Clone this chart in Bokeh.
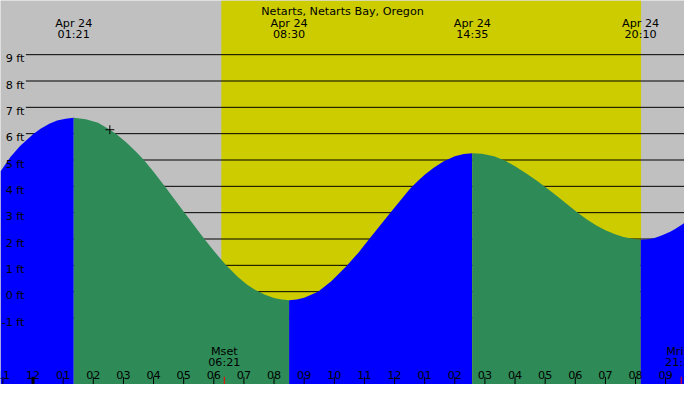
from bokeh.plotting import figure
from bokeh.models import Range1d
from bokeh.core.properties import value
from bokeh.embed import file_html
from bokeh.resources import INLINE

# ---------------- data ----------------
title = "Netarts, Netarts Bay, Oregon"
date_label = "Apr 24"

# tide curve: hours after midnight of Apr 24, water level in ft
tide_hours = [-1.08, -0.75, -0.43, 0.00, 0.25, 0.54, 0.80, 1.08, 1.35,
              1.75, 2.16, 2.55, 2.76, 3.10, 3.46, 3.68, 4.00, 4.41, 4.70,
              5.03, 5.35, 5.68, 6.00, 6.38, 6.80, 7.10, 7.35, 7.70, 8.00,
              8.25, 8.50,
              8.75, 9.00, 9.46, 9.90, 10.40, 10.80, 11.14, 11.50, 11.84,
              12.20, 12.52, 12.80, 13.00, 13.30, 13.62, 14.00, 14.30, 14.58,
              14.90, 15.30, 15.68, 16.00, 16.40, 16.75, 17.08, 17.40, 17.75,
              18.08, 18.40, 18.70, 19.00, 19.30, 19.60, 19.90, 20.17,
              20.40, 20.60, 20.80, 20.98, 21.15, 21.30, 21.47, 21.63]
tide_ft = [4.56, 5.11, 5.53, 5.98, 6.19, 6.38, 6.50, 6.57, 6.60,
           6.55, 6.41, 6.15, 5.99, 5.66, 5.27, 5.00, 4.55, 3.95, 3.50,
           3.00, 2.51, 2.01, 1.55, 1.04, 0.56, 0.27, 0.08, -0.12, -0.24,
           -0.30, -0.33,
           -0.30, -0.23, 0.00, 0.40, 0.97, 1.48, 1.97, 2.48, 2.97,
           3.47, 3.92, 4.23, 4.44, 4.71, 4.94, 5.14, 5.23, 5.26,
           5.24, 5.14, 4.97, 4.76, 4.47, 4.19, 3.91, 3.62, 3.30,
           3.00, 2.73, 2.51, 2.33, 2.19, 2.08, 2.01, 1.97,
           1.99, 2.03, 2.10, 2.19, 2.28, 2.37, 2.49, 2.61]

# high / low tide times
extreme_times = ["01:21", "08:30", "14:35", "20:10"]

# daylight
sunrise_time = "06:15"
sunset_time = "20:11"

# moon events
moon_names = ["Mset", "Mrise"]
moon_times = ["06:21", "21:31"]

# current-time marker
now_hour = 2.55
now_ft = 6.15

# y levels
ft_levels = [-1, 0, 1, 2, 3, 4, 5, 6, 7, 8, 9]
ft_labels = ["-1 ft", "0 ft", "1 ft", "2 ft", "3 ft", "4 ft", "5 ft",
             "6 ft", "7 ft", "8 ft", "9 ft"]

# hour ticks
hour_ticks = [-1, 0, 1, 2, 3, 4, 5, 6, 7, 8, 9, 10, 11, 12, 13, 14, 15, 16,
              17, 18, 19, 20, 21]
hour_labels = ["11", "12", "01", "02", "03", "04", "05", "06", "07", "08",
               "09", "10", "11", "12", "01", "02", "03", "04", "05", "06",
               "07", "08", "09"]

# ---------------- layout helpers ----------------
REF_W, REF_H = 700, 400          # reference picture size
FIG_W, FIG_H = 684, 384          # figure size (fits window with 8px margin)
X0_PX, PX_PER_H = 33.3, 30.83    # midnight position, px per hour
Y0_PX, PX_PER_FT = 303.3, 27.43  # 0 ft position, px per ft


def t_of_px(x):
    return (x - X0_PX) / PX_PER_H


def h_of_px(y):
    return (Y0_PX - y) / PX_PER_FT


def hhmm(s):
    h, m = s.split(":")
    return int(h) + int(m) / 60.0


X_LO, X_HI = t_of_px(0), t_of_px(REF_W)
Y_LO, Y_HI = h_of_px(REF_H), h_of_px(0)

FONT = value("DejaVu Sans")
FSIZE = "11.2px"

p = figure(width=FIG_W, height=FIG_H,
           x_range=Range1d(X_LO, X_HI), y_range=Range1d(Y_LO, Y_HI),
           output_backend="svg", toolbar_location=None, min_border=0,
           x_axis_location=None, y_axis_location=None)
p.grid.visible = False
p.outline_line_color = None
p.background_fill_color = "#C0C0C0"
p.border_fill_color = "#C0C0C0"

# daylight band
p.quad(left=[hhmm(sunrise_time)], right=[hhmm(sunset_time)],
       bottom=[Y_LO], top=[Y_HI], fill_color="#CCCC00", line_color=None)

# grid lines
p.segment(x0=[t_of_px(26)] * len(ft_levels), x1=[X_HI] * len(ft_levels),
          y0=ft_levels, y1=ft_levels, line_color="black", line_width=1)

# tide fill: blue when rising, green when falling
ext_hours = [hhmm(s) for s in extreme_times]
idx = [min(range(len(tide_hours)), key=lambda i: abs(tide_hours[i] - eh))
       for eh in ext_hours]
bounds = [0] + idx + [len(tide_hours) - 1]
for k in range(len(bounds) - 1):
    a, b = bounds[k], bounds[k + 1]
    xs = tide_hours[a:b + 1]
    ys = tide_ft[a:b + 1]
    rising = ys[-1] > ys[0]
    color = "#0000FF" if rising else "#2E8B57"
    p.varea(x=xs, y1=[Y_LO] * len(xs), y2=ys, fill_color=color)

# ft labels
p.text(x=[t_of_px(24.5)] * len(ft_levels),
       y=[lv - 4.3 / PX_PER_FT for lv in ft_levels], text=ft_labels,
       text_font=FONT, text_font_size=FSIZE, text_align="right",
       text_baseline="alphabetic", text_color="black")

# title
p.text(x=[t_of_px(350)], y=[h_of_px(11)], text=[title],
       text_font=FONT, text_font_size=FSIZE, text_align="center",
       text_baseline="alphabetic", text_color="black")

# high/low labels at top
p.text(x=ext_hours, y=[h_of_px(24.3)] * len(ext_hours),
       text=[date_label] * len(ext_hours),
       text_font=FONT, text_font_size=FSIZE, text_align="center",
       text_baseline="alphabetic", text_color="black")
p.text(x=ext_hours, y=[h_of_px(35.7)] * len(ext_hours), text=extreme_times,
       text_font=FONT, text_font_size=FSIZE, text_align="center",
       text_baseline="alphabetic", text_color="black")

# hour ticks and labels
tick_top = h_of_px(392)
reg = [h for h in hour_ticks if h % 24 != 0]
mid = [h for h in hour_ticks if h % 24 == 0]
p.segment(x0=reg, x1=reg, y0=[Y_LO] * len(reg), y1=[tick_top] * len(reg),
          line_color="black", line_width=1)
p.segment(x0=mid, x1=mid, y0=[Y_LO] * len(mid), y1=[tick_top] * len(mid),
          line_color="black", line_width=3)
p.text(x=hour_ticks, y=[h_of_px(389.7)] * len(hour_ticks), text=hour_labels,
       text_font=FONT, text_font_size=FSIZE, text_align="center",
       text_baseline="alphabetic", text_color="black")

# moon events
moon_hours = [hhmm(s) for s in moon_times]
p.segment(x0=moon_hours, x1=moon_hours, y0=[Y_LO] * len(moon_hours),
          y1=[tick_top] * len(moon_hours), line_color="red", line_width=1)
p.text(x=moon_hours, y=[h_of_px(366)] * len(moon_hours), text=moon_names,
       text_font=FONT, text_font_size=FSIZE, text_align="center",
       text_baseline="alphabetic", text_color="black")
p.text(x=moon_hours, y=[h_of_px(377.3)] * len(moon_hours), text=moon_times,
       text_font=FONT, text_font_size=FSIZE, text_align="center",
       text_baseline="alphabetic", text_color="black")

# current-time cross
p.scatter(x=[now_hour], y=[now_ft], marker="cross", size=9,
          line_color="black", line_width=1)

open("out.html", "w").write(file_html(p, INLINE))
